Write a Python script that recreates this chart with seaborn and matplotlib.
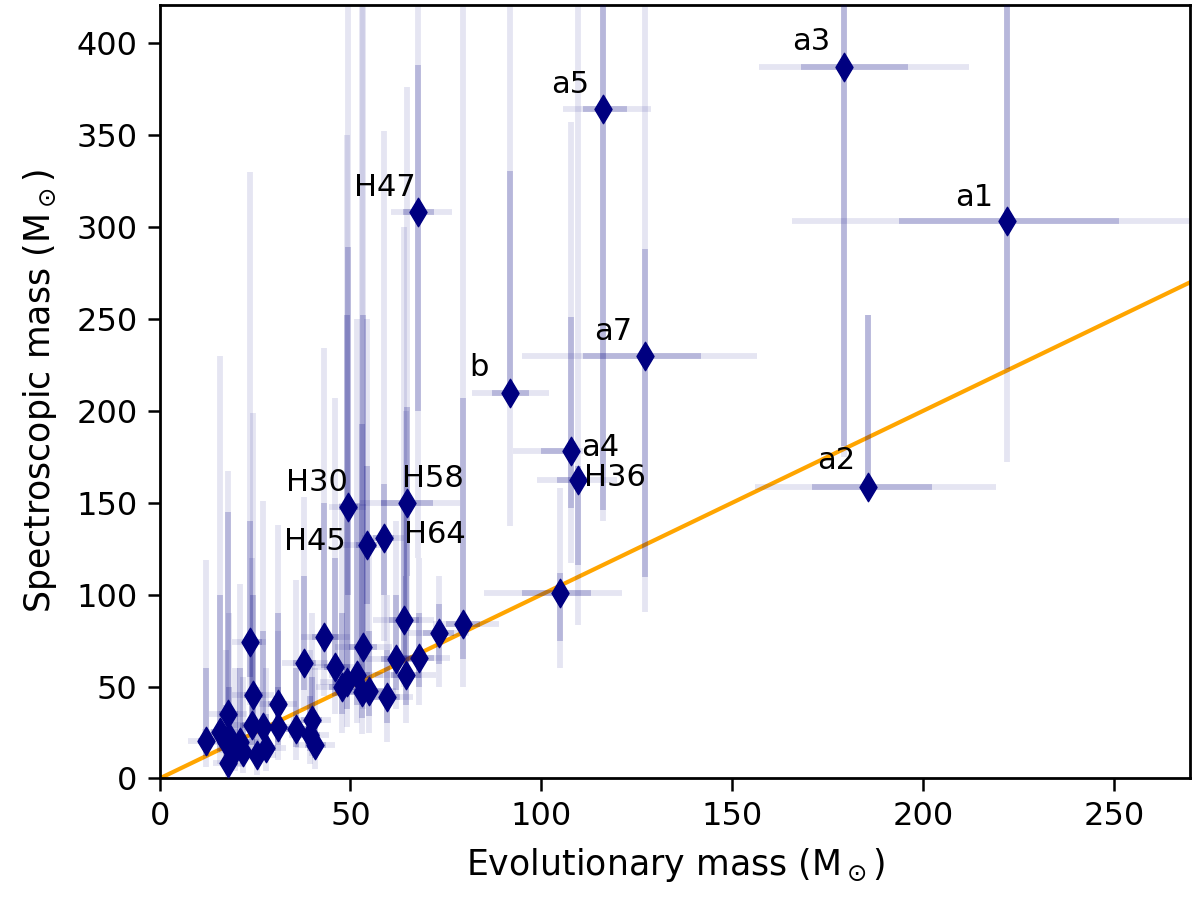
import matplotlib
matplotlib.use("Agg")
import matplotlib.pyplot as plt
import seaborn as sns
import numpy as np
import pandas as pd

# star names (empty = no label)
names = ["a1", "a2", "a3", "a4", "a5", "a7", "b", "H36", "H47", "H30", "H58", "H45", "H64", "",
         "", "", "", "", "", "", "", "", "", "", "", "", "", "", "", "", "", "", "", "", "", "",
         "", "", "", "", "", "", "", "", "", "", "", "", "", "", ""]

# evolutionary mass and spectroscopic mass (Msun)
mass_evol = [222.0, 185.6, 179.3, 107.7, 116.1, 127.1, 91.7, 109.6, 67.6, 49.3, 64.7, 54.2, 58.7, 104.8,
             23.6, 43.0, 37.7, 46.0, 24.4, 30.9, 17.8, 12.1, 15.7, 18.3, 21.0, 24.1, 27.0, 30.9, 35.6,
             39.8, 39.3, 40.6, 17.5, 19.7, 21.8, 25.4, 28.0, 17.8,
             53.2, 64.0, 73.1, 79.4, 61.9, 67.9, 64.5, 47.7, 49.0, 51.6, 53.0, 54.8, 59.5]
mass_spec = [303.0, 158.8, 387.0, 178.4, 364.4, 229.7, 209.5, 162.6, 308.0, 147.8, 150.0, 127.0, 131.0, 101.0,
             74.2, 77.0, 62.7, 60.5, 45.3, 40.4, 34.9, 20.2, 25.1, 22.4, 19.6, 28.9, 27.8, 27.8, 26.7,
             31.6, 23.5, 18.0, 19.6, 15.3, 14.2, 12.5, 16.4, 8.2,
             71.5, 86.2, 79.0, 84.0, 64.9, 65.5, 56.2, 49.6, 52.4, 56.2, 46.9, 47.5, 44.2]

# inner (1 sigma) and outer (2 sigma) bounds on evolutionary mass
evol_lo1 = [193.7, 170.8, 168.0, 100.0, 110.9, 111.0, 87.0, 104.0, 63.7, 47.0, 58.0, 51.5, 56.0, 95.0,
            21.8, 40.0, 35.0, 43.0, 22.0, 28.5, 15.5, 10.0, 13.5, 16.0, 18.5, 21.5, 24.5, 28.5, 33.0,
            37.0, 36.5, 38.0, 15.5, 17.5, 19.5, 23.0, 25.5, 16.0,
            49.5, 60.0, 69.0, 75.0, 58.0, 64.0, 60.5, 44.5, 45.5, 48.0, 49.5, 51.0, 56.0]
evol_hi1 = [251.4, 202.4, 196.0, 109.6, 122.4, 141.8, 96.7, 112.0, 71.8, 52.0, 71.6, 57.0, 61.5, 113.0,
            26.7, 47.0, 41.0, 50.0, 27.0, 33.5, 20.5, 14.5, 18.0, 21.0, 23.5, 27.0, 29.5, 33.5, 38.5,
            42.5, 42.0, 43.5, 19.5, 22.0, 24.0, 28.0, 30.5, 19.5,
            57.0, 68.0, 77.0, 84.0, 66.0, 72.0, 68.5, 51.0, 52.5, 55.0, 56.5, 58.5, 63.0]
evol_lo2 = [165.6, 156.0, 157.0, 92.5, 105.6, 95.0, 81.8, 98.8, 60.5, 44.5, 52.4, 48.0, 53.0, 85.0,
            19.0, 37.0, 32.0, 40.0, 19.0, 26.0, 13.0, 7.5, 11.0, 13.5, 16.0, 19.0, 22.0, 26.0, 30.5,
            34.5, 34.0, 35.5, 13.5, 15.5, 17.5, 21.0, 23.0, 14.0,
            46.0, 56.0, 65.0, 71.6, 54.0, 60.0, 56.5, 41.0, 42.0, 44.5, 46.0, 47.5, 52.5]
evol_hi2 = [290.0, 219.0, 212.0, 111.0, 128.7, 156.5, 102.0, 119.8, 76.5, 54.0, 78.6, 60.0, 64.0, 121.0,
            28.0, 50.0, 44.0, 53.0, 30.0, 36.0, 23.0, 17.0, 20.5, 23.5, 26.0, 29.5, 32.0, 36.0, 41.0,
            45.0, 44.5, 46.0, 21.5, 24.0, 26.0, 30.5, 33.0, 21.5,
            61.0, 72.0, 81.0, 89.0, 70.0, 76.0, 72.5, 54.5, 56.0, 58.5, 60.0, 62.0, 66.5]

# inner (1 sigma) and outer (2 sigma) bounds on spectroscopic mass
spec_lo1 = [222.6, 158.8, 180.6, 147.0, 146.0, 109.7, 205.0, 116.0, 200.0, 100.0, 110.0, 95.0, 100.0, 75.0,
            55.0, 60.0, 48.0, 45.0, 32.0, 28.0, 22.0, 12.0, 15.0, 14.0, 12.0, 18.0, 18.0, 18.0, 17.0,
            20.0, 15.0, 11.0, 12.0, 9.0, 8.0, 7.0, 10.0, 4.0,
            50.0, 65.0, 62.0, 65.0, 48.0, 50.0, 40.0, 35.0, 38.0, 40.0, 33.0, 34.0, 30.0]
spec_hi1 = [480.0, 252.0, 500.0, 251.0, 450.0, 288.0, 330.6, 170.0, 388.0, 289.0, 202.0, 170.0, 160.0, 112.0,
            140.0, 150.0, 110.0, 120.0, 100.0, 90.0, 145.0, 60.0, 100.0, 50.0, 60.0, 70.0, 80.0, 50.0, 60.0,
            55.0, 45.0, 35.0, 40.0, 35.0, 30.0, 30.0, 35.0, 25.0,
            252.0, 150.0, 95.0, 207.0, 100.0, 90.0, 110.0, 90.0, 252.0, 150.0, 193.0, 80.0, 70.0]
spec_lo2 = [172.0, 158.8, 175.0, 117.0, 140.0, 90.6, 137.5, 83.5, 120.0, 60.0, 80.0, 70.0, 75.0, 60.0,
            40.0, 45.0, 38.0, 35.0, 22.0, 20.0, 15.0, 6.0, 8.0, 8.0, 6.0, 10.0, 10.0, 10.0, 10.0,
            12.0, 8.0, 5.0, 6.0, 4.0, 3.0, 2.0, 4.0, 1.0,
            38.0, 50.0, 50.0, 50.0, 38.0, 40.0, 30.0, 25.0, 28.0, 30.0, 24.0, 25.0, 20.0]
spec_hi2 = [520.0, 252.0, 550.0, 357.0, 520.0, 500.0, 500.0, 500.0, 500.0, 500.0, 376.0, 250.0, 352.0, 158.0,
            330.0, 234.0, 153.0, 207.0, 199.0, 138.0, 167.0, 119.0, 230.0, 90.0, 106.0, 120.0, 151.0, 80.0, 108.0,
            90.0, 70.0, 60.0, 70.0, 60.0, 55.0, 50.0, 60.0, 40.0,
            500.0, 300.0, 110.0, 500.0, 140.0, 120.0, 200.0, 150.0, 350.0, 250.0, 500.0, 130.0, 100.0]

# label offsets in pixels from the marker (dx, dy, ha, va)
label_pos = {
    "a1": (-14, 9, "right", "bottom"),
    "a2": (-13, 12, "right", "bottom"),
    "a3": (-14, 11, "right", "bottom"),
    "a4": (10, 3, "left", "center"),
    "a5": (-14, 10, "right", "bottom"),
    "a7": (-13, 10, "right", "bottom"),
    "b": (-21, 11, "right", "bottom"),
    "H36": (6, 2, "left", "center"),
    "H47": (-2, 10, "right", "bottom"),
    "H30": (0, 10, "right", "bottom"),
    "H58": (-5, 10, "left", "bottom"),
    "H45": (-21, 4, "right", "center"),
    "H64": (20, 3, "left", "center"),
}

df = pd.DataFrame({"name": names, "evol": mass_evol, "spec": mass_spec,
                   "elo1": evol_lo1, "ehi1": evol_hi1, "elo2": evol_lo2, "ehi2": evol_hi2,
                   "slo1": spec_lo1, "shi1": spec_hi1, "slo2": spec_lo2, "shi2": spec_hi2})

sns.set_theme(style="ticks")
plt.rcParams["font.family"] = ["DejaVu Sans"]

fig, ax = plt.subplots(figsize=(12, 9.18), dpi=100)
fig.subplots_adjust(left=0.133, right=0.992, top=0.995, bottom=0.152)

# one-to-one line
ax.axline((0, 0), slope=1, color="orange", lw=3, zorder=1)

# outer and inner error bars
ax.errorbar(df["evol"], df["spec"],
            xerr=[df["evol"] - df["elo2"], df["ehi2"] - df["evol"]],
            yerr=[df["spec"] - df["slo2"], df["shi2"] - df["spec"]],
            fmt="none", ecolor="navy", alpha=0.1, elinewidth=4.2, capsize=0, zorder=2)
ax.errorbar(df["evol"], df["spec"],
            xerr=[df["evol"] - df["elo1"], df["ehi1"] - df["evol"]],
            yerr=[df["spec"] - df["slo1"], df["shi1"] - df["spec"]],
            fmt="none", ecolor="navy", alpha=0.2, elinewidth=4.2, capsize=0, zorder=3)

sns.scatterplot(data=df, x="evol", y="spec", marker="d", s=210, color="navy",
                edgecolor="navy", linewidth=1, zorder=4, ax=ax)

for _, row in df[df["name"] != ""].iterrows():
    dx, dy, ha, va = label_pos[row["name"]]
    ax.annotate(row["name"], (row["evol"], row["spec"]), xytext=(dx, dy),
                textcoords="offset pixels", ha=ha, va=va, fontsize=22, color="black", zorder=5)

ax.set_xlim(0, 270)
ax.set_ylim(0, 421)
ax.set_xticks([0, 50, 100, 150, 200, 250])
ax.set_yticks([0, 50, 100, 150, 200, 250, 300, 350, 400])
ax.tick_params(direction="out", length=9, width=1.8, pad=7, labelsize=23, colors="black")
for sp in ax.spines.values():
    sp.set_linewidth(2)
    sp.set_color("black")

ax.set_xlabel(r"Evolutionary mass (M$_\odot$)", fontsize=25, color="black", labelpad=10)
ax.set_ylabel(r"Spectroscopic mass (M$_\odot$)", fontsize=25, color="black", labelpad=12)

fig.savefig("out.png", dpi=100)
